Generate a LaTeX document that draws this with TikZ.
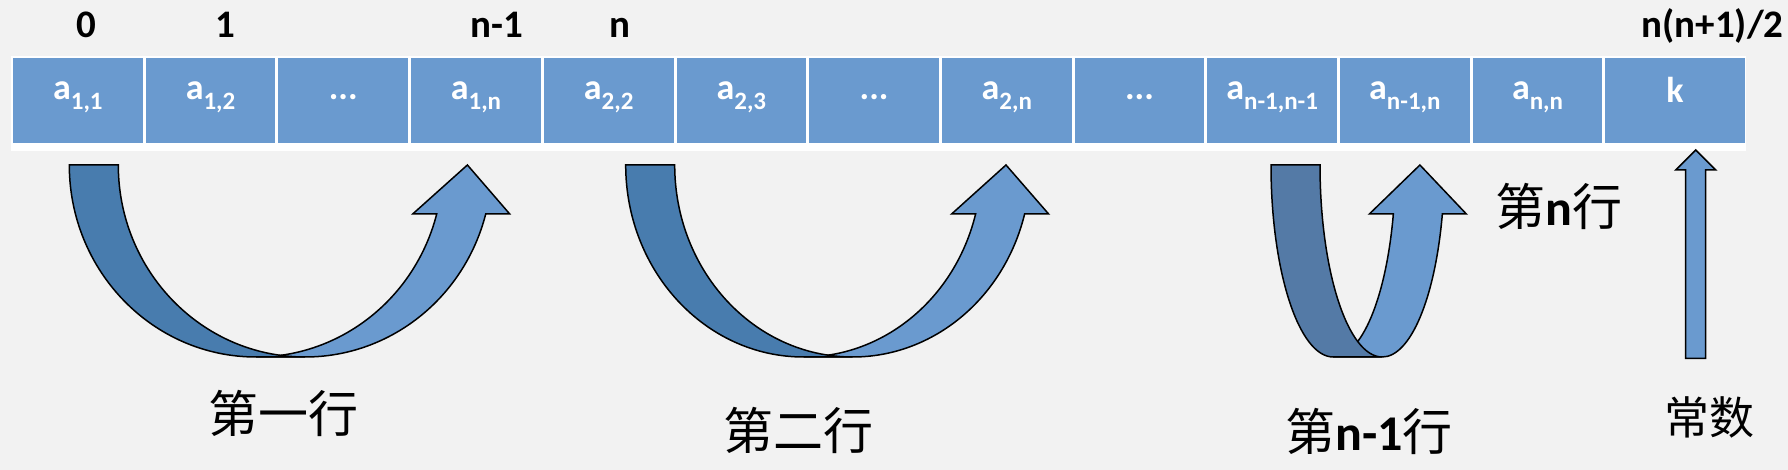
\documentclass[tikz,border=0pt]{standalone}
\usepackage{fontspec}
\setmainfont{Carlito}
\newfontfamily\cjk{Noto Sans CJK SC}
\definecolor{bgc}{RGB}{242,242,242}
\definecolor{cellblue}{RGB}{106,154,207}
\definecolor{darkband}{RGB}{72,124,174}
\definecolor{darkbandb}{RGB}{84,122,166}
\newcommand\subx[1]{\raisebox{-10pt}{\fontsize{25}{25}\selectfont #1}}
% curved up arrow: #1 = centre x of left ellipse, #2 = x radius, #3 = colour of the back band
\newcommand\upturn[3]{%
  \filldraw[fill=cellblue, draw=black, line width=1.5pt, line join=miter]
    (#1,113) arc[start angle=270, end angle=345.214, x radius=#2pt, y radius=192pt]
    -- ++(-24,0) -- ({#1+#2+24.5},305) -- ({#1+49+0.96693*#2+24},256)
    -- ({#1+49+0.96693*#2},256)
    arc[start angle=345.214, end angle=270, x radius=#2pt, y radius=192pt] -- cycle;
  \filldraw[fill=#3, draw=black, line width=1.5pt]
    ({#1-#2},305) arc[start angle=180, end angle=270, x radius=#2pt, y radius=192pt]
    -- ({#1+49},113) arc[start angle=270, end angle=180, x radius=#2pt, y radius=192pt] -- cycle;
}
\begin{document}
\begin{tikzpicture}[x=1pt,y=1pt,
  cellbox/.style={fill=cellblue, draw=none, minimum width=129.7pt, minimum height=84.4pt, inner sep=0pt, outer sep=0pt},
  celltext/.style={text=white, font=\fontsize{36}{36}\selectfont\bfseries, anchor=base, inner sep=0pt},
  toplabel/.style={text=black, font=\fontsize{39}{39}\selectfont\bfseries, anchor=base, inner sep=0pt},
  rowlabel/.style={text=black, font=\fontsize{50}{50}\selectfont, inner sep=0pt}]
\useasboundingbox (0,0) rectangle (1788,470);
\fill[bgc] (0,0) rectangle (1788,470);
% table background
\fill[white] (11,319.3) rectangle (1746,414.3);
% cells
\node[cellbox] (c1) at (77.85,369.5) {};
\node[cellbox] (c2) at (210.55,369.5) {};
\node[cellbox] (c3) at (343.25,369.5) {};
\node[cellbox] (c4) at (475.95,369.5) {};
\node[cellbox] (c5) at (608.65,369.5) {};
\node[cellbox] (c6) at (741.35,369.5) {};
\node[cellbox] (c7) at (874.05,369.5) {};
\node[cellbox] (c8) at (1006.75,369.5) {};
\node[cellbox] (c9) at (1139.45,369.5) {};
\node[cellbox] (c10) at (1272.15,369.5) {};
\node[cellbox] (c11) at (1404.85,369.5) {};
\node[cellbox] (c12) at (1537.55,369.5) {};
\node[cellbox, minimum width=139.3pt] (c13) at (1675.05,369.5) {};
% cell texts
\node[celltext] (t1) at (77.85,370) {a\subx{1,1}};
\node[celltext] (t2) at (210.55,370) {a\subx{1,2}};
\node[celltext] (t3) at (343.25,370) {...};
\node[celltext] (t4) at (475.95,370) {a\subx{1,n}};
\node[celltext] (t5) at (608.65,370) {a\subx{2,2}};
\node[celltext] (t6) at (741.35,370) {a\subx{2,3}};
\node[celltext] (t7) at (874.05,370) {...};
\node[celltext] (t8) at (1006.75,370) {a\subx{2,n}};
\node[celltext] (t9) at (1139.45,370) {...};
\node[celltext] (t10) at (1272.15,370) {a\subx{n-1,n-1}};
\node[celltext] (t11) at (1404.85,370) {a\subx{n-1,n}};
\node[celltext] (t12) at (1537.55,370) {a\subx{n,n}};
\node[celltext] (t13) at (1675.05,367) {k};
% index labels
\node[toplabel] (i0) at (86.7,432.3) {0};
\node[toplabel] (i1) at (225.3,432.3) {1};
\node[toplabel] (i2) at (497,432.3) {n-1};
\node[toplabel] (i3) at (619.5,432.3) {n};
\node[toplabel] (i4) at (1712.5,432.3) {n(n+1)/2};
% curved arrows
\upturn{256.1}{186.8}{darkband}
\upturn{803.6}{177.9}{darkband}
\upturn{1333.2}{62.2}{darkbandb}
% straight up arrow
\filldraw[fill=cellblue, draw=black, line width=1.5pt]
  (1685.7,111.7) -- (1685.7,300) -- (1675.7,300) -- (1695.7,320) -- (1715.7,300)
  -- (1705.7,300) -- (1705.7,111.7) -- cycle;
% row labels
\node[rowlabel] (l1) at (283.3,56.3) {\cjk 第一行};
\node[rowlabel] (l2) at (798.7,39.2) {\cjk 第二行};
\node[rowlabel] (l3) at (1369.2,38.3) {{\cjk 第}{\bfseries n-1}{\cjk 行}};
\node[rowlabel] (l4) at (1559.2,263.7) {{\cjk 第}{\bfseries n}{\cjk 行}};
\node[rowlabel, font=\fontsize{45}{45}\selectfont] (l5) at (1709.3,52.8) {\cjk 常数};
\end{tikzpicture}
\end{document}
